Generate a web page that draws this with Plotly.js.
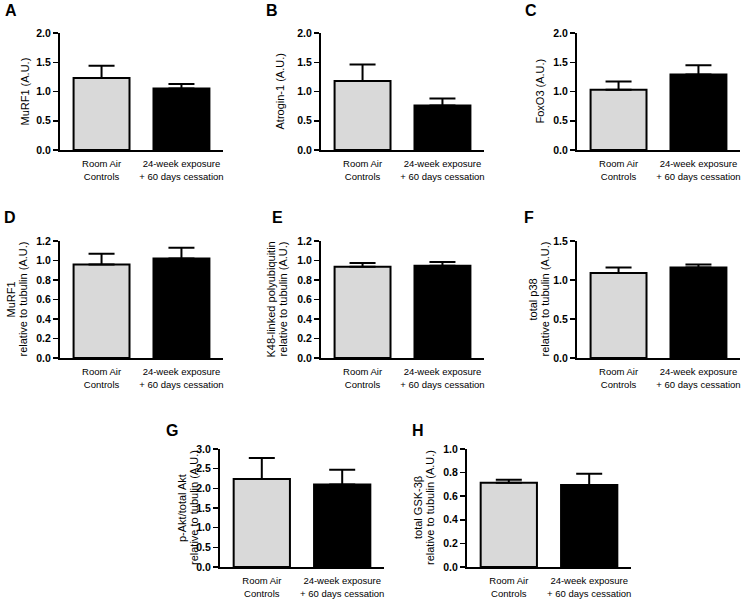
<!DOCTYPE html>
<html>
<head>
<meta charset="utf-8">
<script src="https://cdn.plot.ly/plotly-3.0.1.min.js"></script>
<style>html,body{margin:0;padding:0;background:#fff;}#chart{width:747px;height:600px;}</style>
</head>
<body>
<div id="chart"></div>
<script>
// ---- data ----
const categories = ["Room Air<br>Controls", "24-week exposure<br>+ 60 days cessation"];
const panelLetters = ["A", "B", "C", "D", "E", "F", "G", "H"];
const yTitles = [
  ["MuRF1 (A.U.)"],
  ["Atrogin-1 (A.U.)"],
  ["FoxO3 (A.U.)"],
  ["MuRF1", "relative to tubulin (A.U.)"],
  ["K48-linked polyubiquitin", "relative to tubulin (A.U.)"],
  ["total p38", "relative to tubulin (A.U.)"],
  ["p-Akt/total Akt", "relative to tubulin (A.U.)"],
  ["total GSK-3β", "relative to tubulin (A.U.)"]
];
const murf1 = [1.23, 1.05];          const murf1Err = [0.21, 0.08];
const atrogin1 = [1.18, 0.76];       const atrogin1Err = [0.28, 0.12];
const foxo3 = [1.03, 1.29];          const foxo3Err = [0.14, 0.16];
const murf1Tub = [0.96, 1.02];       const murf1TubErr = [0.11, 0.11];
const k48Tub = [0.935, 0.945];       const k48TubErr = [0.04, 0.04];
const p38Tub = [1.09, 1.16];         const p38TubErr = [0.07, 0.04];
const pAktTub = [2.24, 2.10];        const pAktTubErr = [0.53, 0.37];
const gskTub = [0.715, 0.695];       const gskTubErr = [0.025, 0.095];
const yMax = [2.0, 2.0, 2.0, 1.2, 1.2, 1.5, 3.0, 1.0];
const yStep = [0.5, 0.5, 0.5, 0.2, 0.2, 0.5, 0.5, 0.2];

const values = [murf1, atrogin1, foxo3, murf1Tub, k48Tub, p38Tub, pAktTub, gskTub];
const errors = [murf1Err, atrogin1Err, foxo3Err, murf1TubErr, k48TubErr, p38TubErr, pAktTubErr, gskTubErr];

// ---- layout geometry (pixels) ----
const W = 747, H = 600;
const boxes = [
  {x0: 60, x1: 223, y0: 33, y1: 150, tx: [25], lx: 11, ly: 11},
  {x0: 321, x1: 484, y0: 33, y1: 150, tx: [280], lx: 272, ly: 11},
  {x0: 577, x1: 740, y0: 33, y1: 150, tx: [540], lx: 531, ly: 11},
  {x0: 60, x1: 223, y0: 241, y1: 358, tx: [10, 22], lx: 10, ly: 218},
  {x0: 321, x1: 484, y0: 241, y1: 358, tx: [270, 282], lx: 277, ly: 218},
  {x0: 577, x1: 740, y0: 241, y1: 358, tx: [532, 544], lx: 529, ly: 218},
  {x0: 220, x1: 384, y0: 449, y1: 567, tx: [182, 194], lx: 172, ly: 430},
  {x0: 467, x1: 631, y0: 449, y1: 567, tx: [418, 430], lx: 418, ly: 430}
];
const FONT = "Liberation Sans, Arial, Helvetica, sans-serif";
const barColors = ["#d9d9d9", "#000000"];

const data = [];
const layout = {
  width: W, height: H,
  margin: {l: 0, r: 0, t: 0, b: 0},
  paper_bgcolor: "#ffffff", plot_bgcolor: "#ffffff",
  showlegend: false,
  bargap: 0.3,
  font: {family: FONT, color: "#000", size: 10},
  annotations: []
};

boxes.forEach((b, i) => {
  const n = i + 1;
  const xa = n === 1 ? "x" : "x" + n;
  const ya = n === 1 ? "y" : "y" + n;
  const xk = n === 1 ? "xaxis" : "xaxis" + n;
  const yk = n === 1 ? "yaxis" : "yaxis" + n;
  data.push({
    type: "bar",
    x: categories,
    y: values[i],
    xaxis: xa, yaxis: ya,
    marker: {color: barColors, line: {color: "#000", width: 2}},
    error_y: {type: "data", symmetric: false, array: errors[i], arrayminus: [0, 0],
              color: "#000", thickness: 2, width: 13},
    hoverinfo: "none"
  });
  layout[xk] = {
    domain: [b.x0 / W, b.x1 / W],
    anchor: ya,
    type: "category",
    range: [-0.52, 1.52],
    showline: true, linecolor: "#000", linewidth: 2,
    ticks: "", showgrid: false, zeroline: false,
    ticklabelstandoff: 4,
    tickfont: {family: FONT, size: 9.5, color: "#000"},
    fixedrange: true
  };
  layout[yk] = {
    domain: [1 - b.y1 / H, 1 - b.y0 / H],
    anchor: xa,
    range: [0, yMax[i]],
    tick0: 0, dtick: yStep[i],
    tickformat: ".1f",
    showline: true, linecolor: "#000", linewidth: 2,
    ticks: "outside", ticklen: 5, tickwidth: 1.5, tickcolor: "#000",
    showgrid: false, zeroline: false,
    tickfont: {family: FONT, size: 10.5, color: "#000", weight: "bold"},
    fixedrange: true
  };
  yTitles[i].forEach((line, k) => {
    layout.annotations.push({
      text: line, textangle: -90,
      xref: "paper", yref: "paper",
      x: b.tx[k] / W, y: 1 - (b.y0 + b.y1) / 2 / H,
      xanchor: "center", yanchor: "middle",
      showarrow: false,
      font: {family: FONT, size: 11, color: "#000"}
    });
  });
  layout.annotations.push({
    text: "<b>" + panelLetters[i] + "</b>",
    xref: "paper", yref: "paper",
    x: b.lx / W, y: 1 - b.ly / H,
    xanchor: "center", yanchor: "middle",
    showarrow: false,
    font: {family: FONT, size: 16, color: "#000"}
  });
});

Plotly.newPlot("chart", data, layout, {staticPlot: true, displayModeBar: false});
</script>
</body>
</html>
